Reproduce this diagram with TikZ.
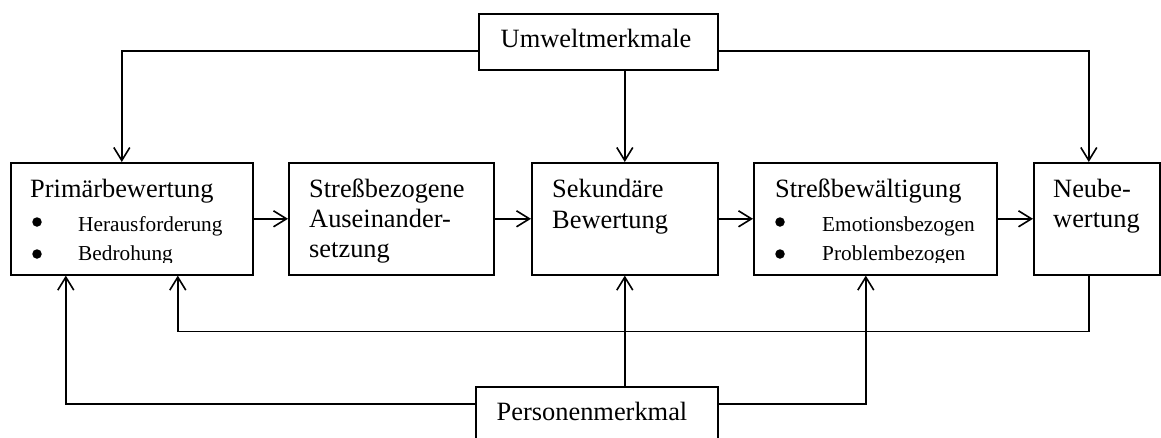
\documentclass[tikz,border=0pt]{standalone}
\usepackage{fontspec}
\setmainfont{Liberation Serif}
\usetikzlibrary{arrows.meta}
\newcommand\bigf{\fontsize{26.4}{30}\selectfont}
\newcommand\smallf{\fontsize{21.3}{25}\selectfont}
\tikzset{
  box/.style={draw, line width=1.6pt, rectangle, inner sep=0pt, anchor=north west},
  txt/.style={anchor=base west, inner sep=0pt, font=\bigf},
  stxt/.style={anchor=base west, inner sep=0pt, font=\smallf},
  dot/.style={circle, fill=black, inner sep=0pt, minimum size=9.5pt},
  arr/.style={line width=1.6pt, -{Straight Barb[length=13pt,width=16pt,line width=1.6pt]}}
}
\begin{document}
\begin{tikzpicture}[x=1pt,y=-1pt]
\clip (0,0) rectangle (1161,437);
\useasboundingbox (0,0) rectangle (1161,437);
% boxes
\node[box, minimum width=239pt, minimum height=56pt] (U) at (478,13) {};
\node[box, minimum width=242pt, minimum height=112pt] (P) at (10,162) {};
\node[box, minimum width=205pt, minimum height=112pt] (S) at (288,162) {};
\node[box, minimum width=186pt, minimum height=112pt] (K) at (531,162) {};
\node[box, minimum width=243pt, minimum height=112pt] (B) at (753,162) {};
\node[box, minimum width=126pt, minimum height=112pt] (N) at (1033,162) {};
\node[box, minimum width=242pt, minimum height=74pt] (Pm) at (475,386) {};
% texts
\node[anchor=base, inner sep=0pt, font=\bigf] (tU) at (596,47) {Umweltmerkmale};
\node[anchor=base, inner sep=0pt, font=\bigf] (tPm) at (592,420) {Personenmerkmal};
\node[txt] (tP) at (30,197) {Primärbewertung};
\node[dot] (d1) at (37,222) {};
\node[dot] (d2) at (37,254) {};
\node[stxt] (tP1) at (78,231) {Herausforderung};
\node[txt] (tS1) at (309,197) {Streßbezogene};
\node[txt] (tS2) at (309,227) {Auseinander-};
\node[txt] (tS3) at (309,257) {setzung};
\node[txt] (tK1) at (552,197) {Sekundäre};
\node[txt] (tK2) at (552,228) {Bewertung};
\node[txt] (tB) at (775,197) {Streßbewältigung};
\node[dot] (d3) at (780,222) {};
\node[dot] (d4) at (780,254) {};
\node[stxt] (tB1) at (822,231) {Emotionsbezogen};
\node[txt] (tN1) at (1053,197) {Neube-};
\node[txt] (tN2) at (1053,227) {wertung};
\begin{scope}
\clip (0,0) rectangle (1161,262.5);
\node[stxt] (tP2) at (78,260) {Bedrohung};
\node[stxt] (tB2) at (822,260) {Problembezogen};
\end{scope}
% horizontal flow
\draw[arr] (P.east) -- (S.west);
\draw[arr] (S.east) -- (K.west);
\draw[arr] (K.east) -- (B.west);
\draw[arr] (B.east) -- (N.west);
% Umweltmerkmale
\draw[arr] ([yshift=-9pt]U.west) -| ([xshift=-10pt]P.north);
\draw[arr] (U.south -| K.north) -- (K.north);
\draw[arr] ([yshift=-9pt]U.east) -| ([xshift=-8pt]N.north);
% Personenmerkmal
\draw[arr] ([yshift=-18pt]Pm.north west) -| ([xshift=-66pt]P.south);
\draw[arr] (Pm.north -| K.south) -- (K.south);
\draw[arr] ([yshift=-18pt]Pm.north east) -| ([xshift=-9.5pt]B.south);
% feedback
\draw[arr] ([xshift=-8pt]N.south) -- ++(0,56) -| ([xshift=46pt]P.south);
\end{tikzpicture}
\end{document}
